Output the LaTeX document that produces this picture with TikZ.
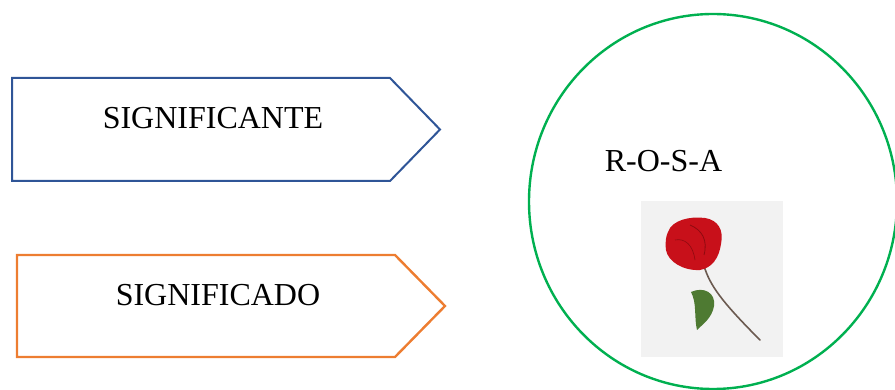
\documentclass[tikz,border=0pt]{standalone}
\usepackage{fontspec}
\setmainfont{Liberation Serif}
\definecolor{sblue}{HTML}{2F5597}
\definecolor{sorange}{HTML}{ED7D31}
\definecolor{sgreen}{HTML}{00B050}
\definecolor{rosered}{HTML}{C8101A}
\definecolor{darkred}{HTML}{8E0A10}
\definecolor{leafgreen}{HTML}{4E7A32}
\definecolor{stemcol}{HTML}{6B5A50}
\tikzset{
  lbl/.style={font=\fontsize{32}{36}\selectfont, anchor=base, inner sep=0pt},
  arrowshape/.style={line width=2pt, line join=miter},
}
\begin{document}
\begin{tikzpicture}[x=1pt,y=-1pt]
\useasboundingbox (0,0) rectangle (895,390);
% pentagon arrows
\draw[arrowshape, draw=sblue] (12,78) -- (390,78) -- (440,129.5) -- (390,181) -- (12,181) -- cycle;
\draw[arrowshape, draw=sorange, line width=2.4pt] (17,255) -- (395,255) -- (445,306) -- (395,357) -- (17,357) -- cycle;
\node[lbl] (ste) at (213,129) {SIGNIFICANTE};
\node[lbl] (sdo) at (218,306) {SIGNIFICADO};
% circle
\draw[sgreen, line width=2.4pt] (713,201.5) ellipse [x radius=184, y radius=187.5];
\node[lbl] (rosa) at (663.5,172) {R-O-S-A};
% rose picture
\fill[gray!10] (641,201) rectangle (783,357);
\draw[stemcol, line width=1.6pt, line cap=round] (704,266) .. controls (710,285) and (720,300) .. (760,340);
\fill[leafgreen] (691,292) .. controls (704,286) and (716,293) .. (714,306) .. controls (712,318) and (703,324) .. (697,330) .. controls (694,318) and (697,303) .. (691,292) -- cycle;
\fill[rosered] (668,232) .. controls (672,220) and (690,216) .. (705,218) .. controls (718,220) and (724,230) .. (721,244) .. controls (719,258) and (712,268) .. (700,270) .. controls (684,271) and (668,262) .. (666,250) .. controls (665,242) and (666,236) .. (668,232) -- cycle;
\draw[darkred, line width=0.8pt] (690,225) .. controls (702,230) and (708,240) .. (704,255);
\draw[darkred, line width=0.6pt] (675,240) .. controls (685,238) and (693,245) .. (695,260);
\end{tikzpicture}
\end{document}
